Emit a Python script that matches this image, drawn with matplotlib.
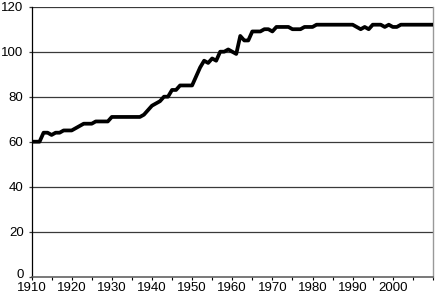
import numpy as np
import matplotlib.pyplot as plt
import matplotlib.transforms as mtransforms
from matplotlib.ticker import MultipleLocator

plt.rcParams['font.family'] = ['Liberation Sans', 'DejaVu Sans']

years = list(range(1910, 2011))
values = [
    60, 60, 60, 64, 64, 63, 64, 64, 65, 65,          # 1910-1919
    65, 66, 67, 68, 68, 68, 69, 69, 69, 69,          # 1920-1929
    71, 71, 71, 71, 71, 71, 71, 71, 72, 74,          # 1930-1939
    76, 77, 78, 80, 80, 83, 83, 85, 85, 85,          # 1940-1949
    85, 89, 93, 96, 95, 97, 96, 100, 100, 101,       # 1950-1959
    100, 99, 107, 105, 105, 109, 109, 109, 110, 110,  # 1960-1969
    109, 111, 111, 111, 111, 110, 110, 110, 111, 111,  # 1970-1979
    111, 112, 112, 112, 112, 112, 112, 112, 112, 112,  # 1980-1989
    112, 111, 110, 111, 110, 112, 112, 112, 111, 112,  # 1990-1999
    111, 111, 112, 112, 112, 112, 112, 112, 112, 112,  # 2000-2009
    112,                                               # 2010
]
y_ticks = [0, 20, 40, 60, 80, 100, 120]
x_labels = list(range(1910, 2001, 10))

fig = plt.figure(figsize=(4.36, 2.98), dpi=100)
ax = fig.add_axes([0.0723, 0.0715, 0.9207, 0.906])

for y in y_ticks[1:]:
    ax.axhline(y, color='#3a3a3a', lw=0.9, zorder=1)

ax.plot(years, values, color='black', lw=2.7, solid_joinstyle='round', zorder=3)

ax.set_xlim(1910, 2010)
ax.set_ylim(0, 120)
ax.set_yticks(y_ticks)
ax.set_xticks(x_labels)
ax.set_xticklabels([str(x) for x in x_labels])
ax.xaxis.set_minor_locator(MultipleLocator(5))

ax.tick_params(axis='y', length=2.2, width=0.9, color='#3a3a3a', pad=3.5, labelsize=9.5)
ax.tick_params(axis='x', which='both', length=2.4, width=0.8, direction='out',
               pad=1.5, labelsize=9.5, color='black')

# lift the "0" label a touch so it clears the 1910 label
zero_label = ax.get_yticklabels()[0]
zero_label.set_transform(zero_label.get_transform() +
                         mtransforms.ScaledTranslation(0, 2 / 72, fig.dpi_scale_trans))

ax.spines['top'].set_visible(False)
ax.spines['left'].set_color('black')
ax.spines['left'].set_linewidth(0.9)
ax.spines['bottom'].set_color('#555555')
ax.spines['bottom'].set_linewidth(1.1)
ax.spines['right'].set_color('#999999')
ax.spines['right'].set_linewidth(1.0)

fig.savefig('out.png', dpi=100)
